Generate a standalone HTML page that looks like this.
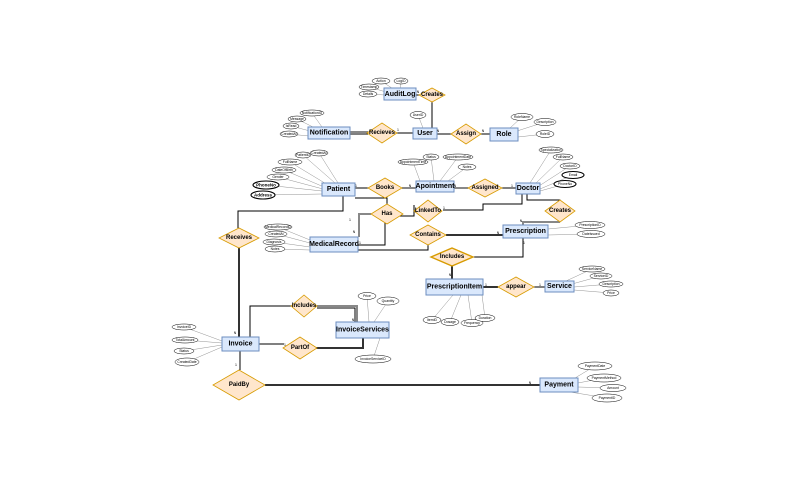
<!DOCTYPE html>
<html><head><meta charset="utf-8"><style>
html,body{margin:0;padding:0;background:#fff;width:800px;height:480px;overflow:hidden}
svg{display:block}
.e{fill:#dae8fc;stroke:#6c8ebf;stroke-width:1}
.d{fill:#ffe6cc;stroke:#d79b00;stroke-width:0.8}
.a{fill:#fff;stroke:#000;stroke-width:0.5}
.at{fill:#fff;stroke:#000;stroke-width:1.1}
.l{stroke:#000;stroke-width:1;fill:none}
.t{stroke:#333;stroke-width:2;fill:none}
.g{stroke:#888;stroke-width:2;fill:none}
.al{stroke:#777;stroke-width:0.4;fill:none}
text{font-family:"Liberation Sans",sans-serif;text-anchor:middle;dominant-baseline:central}
.et{font-size:7px;font-weight:bold}
.dt{font-size:6px;font-weight:bold}
.st{font-size:3.4px}
.bt{font-size:4.5px;font-weight:bold}
.c{font-size:3.5px;text-anchor:start}
</style></head><body>
<svg width="800" height="480" viewBox="0 0 800 480">
<!-- attribute lines -->
<g class="al">
<path d="M381,81L395,90M401,81L400,89M369,87L386,92M368,94L385,95"/>
<path d="M418,115L423,128"/>
<path d="M312,113L322,127M297,119L315,128M291,126L310,131M289,134L309,136"/>
<path d="M522,117L510,128M545,122L517,131M545,134L518,137"/>
<path d="M303,155L335,183M319,153L338,183M290,162L328,185M284,170L324,187M278,177L323,189M266,185L322,191M263,195L322,194"/>
<path d="M431,157L434,181M458,157L440,181M413,162L420,181M467,167L448,181"/>
<path d="M551,150L530,183M563,157L535,184M570,166L539,186M573,175L540,189M565,184L540,191"/>
<path d="M278,227L310,240M276,234L310,243M274,242L310,247M275,249L310,250"/>
<path d="M590,225L548,229M591,234L548,235"/>
<path d="M432,320L453,295M450,322L461,295M472,323L468,295M485,318L482,295"/>
<path d="M592,269L566,281M601,276L572,284M611,284L574,287M611,293L574,290"/>
<path d="M367,296L369,322M388,301L374,322M373,359L380,338"/>
<path d="M184,327L222,341M185,340L222,343M184,351L222,345M187,362L222,347"/>
<path d="M595,366L575,378M604,378L578,383M613,388L578,387M607,398L570,392"/>
</g>
<!-- relationship lines -->
<path class="l" d="M415,95H420M432,102V128"/>
<path class="g" d="M350,132H368"/><path class="l" d="M350,134H368"/>
<path class="l" d="M397,133H413M437,134H452M481,134H490"/>
<path class="l" d="M355,188H368M502,188H516"/>
<path class="g" d="M402,188H416M454,188H468"/>
<path class="l" d="M355,198H387V204"/>
<path class="g" d="M371,214H359V237"/>
<path class="l" d="M343,196V211H238V228"/>
<path class="t" d="M239,248V337"/>
<path class="l" d="M358,245H385V216H414V205M443,210H483V204H522V194"/>
<path class="l" d="M358,250H428V245"/>
<path class="t" d="M446,235H503"/>
<path class="l" d="M527,194V200H560V201"/>
<path class="g" d="M560,222H523V225"/>
<path class="l" d="M523,238V257H473"/>
<path class="t" d="M452,266V279"/>
<path class="t" d="M483,287H498"/><path class="l" d="M534,287H545"/>
<path class="l" d="M250,337V306H292"/>
<path class="g" d="M317,306H357V322"/><path class="l" d="M317,308H355V322"/>
<path class="l" d="M259,344H284"/>
<path class="t" d="M316,348H363V338"/>
<path class="l" d="M240,351V370"/>
<path class="t" d="M265,385H540"/>
<!-- entities -->
<rect class="e" x="384" y="88" width="32" height="12"/><text class="et" x="400" y="94.5">AuditLog</text>
<rect class="e" x="413" y="128" width="24" height="11"/><text class="et" x="425" y="133.5">User</text>
<rect class="e" x="308" y="127" width="42" height="12"/><text class="et" x="329" y="133">Notification</text>
<rect class="e" x="490" y="128" width="28" height="13"/><text class="et" x="504" y="134.5">Role</text>
<rect class="e" x="322" y="183" width="33" height="13"/><text class="et" x="338.5" y="189.5">Patient</text>
<rect class="e" x="416" y="181" width="38" height="11"/><text class="et" x="435" y="186.5">Apointment</text>
<rect class="e" x="516" y="183" width="24" height="11"/><text class="et" x="528" y="188.5">Doctor</text>
<rect class="e" x="310" y="237" width="48" height="15"/><text class="et" x="334" y="244.5">MedicalRecord</text>
<rect class="e" x="503" y="225" width="45" height="13"/><text class="et" x="525.5" y="231.5">Prescription</text>
<rect class="e" x="426" y="279" width="57" height="16"/><text class="et" x="454.5" y="287">PrescriptionItem</text>
<rect class="e" x="545" y="281" width="29" height="11"/><text class="et" x="559.5" y="286.5">Service</text>
<rect class="e" x="336" y="322" width="53" height="16"/><text class="et" x="362.5" y="330">InvoiceServices</text>
<rect class="e" x="222" y="337" width="37" height="14"/><text class="et" x="240.5" y="344">Invoice</text>
<rect class="e" x="540" y="378" width="38" height="14"/><text class="et" x="559" y="385">Payment</text>
<!-- diamonds -->
<g>
<polygon class="d" points="419,95 432,88 445,95 432,102"/><text class="dt" x="432" y="95">Creates</text>
<polygon class="d" points="367,133 382,123 397,133 382,143"/><text class="dt" x="382" y="133">Recieves</text>
<polygon class="d" points="451,134 466,124 481,134 466,144"/><text class="dt" x="466" y="134">Assign</text>
<polygon class="d" points="368,188 385,178 402,188 385,198"/><text class="dt" x="385" y="188">Books</text>
<polygon class="d" points="468,188 485,179 502,188 485,197"/><text class="dt" x="485" y="188">Assigned</text>
<polygon class="d" points="371,214 387,204 403,214 387,224"/><text class="dt" x="387" y="214">Has</text>
<polygon class="d" points="414,211 428,200 442,211 428,222"/><text class="dt" x="428" y="211">LinkedTo</text>
<polygon class="d" points="545,211 560,200 575,211 560,222"/><text class="dt" x="560" y="211">Creates</text>
<polygon class="d" points="410,235 428,225 446,235 428,245"/><text class="dt" x="428" y="235">Contains</text>
<polygon class="d" points="431,257 452,248 473,257 452,266" style="stroke-width:1.4"/><text class="dt" x="452" y="257">Includes</text>
<polygon class="d" points="498,287 516,277 534,287 516,297"/><text class="dt" x="516" y="287">appear</text>
<polygon class="d" points="219,238 239,228 259,238 239,248"/><text class="dt" x="239" y="238">Receives</text>
<polygon class="d" points="291,306 304,295 317,306 304,317"/><text class="dt" x="304" y="306">Includes</text>
<polygon class="d" points="283,348 300,337 317,348 300,359"/><text class="dt" x="300" y="348">PartOf</text>
<polygon class="d" points="213,385 239,370 265,385 239,400"/><text class="dt" x="239" y="385">PaidBy</text>
</g>
<!-- attributes -->
<g>
<ellipse class="a" cx="381" cy="81" rx="9" ry="3"/><text class="st" x="381" y="81">Action</text>
<ellipse class="a" cx="401" cy="81" rx="7" ry="3"/><text class="st" x="401" y="81">LogID</text>
<ellipse class="a" cx="369" cy="87" rx="10" ry="3"/><text class="st" x="369" y="87">Timestamp</text>
<ellipse class="a" cx="368" cy="94" rx="9" ry="3"/><text class="st" x="368" y="94">Details</text>
<ellipse class="a" cx="418" cy="115" rx="8" ry="3.5"/><text class="st" x="418" y="115">UserID</text>
<ellipse class="a" cx="312" cy="113" rx="12" ry="3"/><text class="st" x="312" y="113">NotificationID</text>
<ellipse class="a" cx="297" cy="119" rx="9" ry="3"/><text class="st" x="297" y="119">Message</text>
<ellipse class="a" cx="291" cy="126" rx="8" ry="3"/><text class="st" x="291" y="126">IsRead</text>
<ellipse class="a" cx="289" cy="134" rx="9" ry="3"/><text class="st" x="289" y="134">CreatedAt</text>
<ellipse class="a" cx="522" cy="117" rx="11" ry="3.5"/><text class="st" x="522" y="117">RoleName</text>
<ellipse class="a" cx="545" cy="122" rx="11" ry="3.5"/><text class="st" x="545" y="122">Description</text>
<ellipse class="a" cx="545" cy="134" rx="9" ry="3.5"/><text class="st" x="545" y="134">RoleID</text>
<ellipse class="a" cx="303" cy="155" rx="8" ry="3"/><text class="st" x="303" y="155">PatientID</text>
<ellipse class="a" cx="319" cy="153" rx="9" ry="3"/><text class="st" x="319" y="153">CreatedAt</text>
<ellipse class="a" cx="290" cy="162" rx="12" ry="3"/><text class="st" x="290" y="162">FullName</text>
<ellipse class="a" cx="284" cy="170" rx="12" ry="3"/><text class="st" x="284" y="170">DateOfBirth</text>
<ellipse class="a" cx="278" cy="177" rx="11" ry="3"/><text class="st" x="278" y="177">Gender</text>
<ellipse class="at" cx="266" cy="185" rx="13" ry="4"/><text class="bt" x="266" y="185">PhoneNo</text>
<ellipse class="at" cx="263" cy="195" rx="12" ry="4"/><text class="bt" x="263" y="195">Address</text>
<ellipse class="a" cx="431" cy="157" rx="8" ry="3"/><text class="st" x="431" y="157">Status</text>
<ellipse class="a" cx="458" cy="157" rx="15" ry="3"/><text class="st" x="458" y="157">AppointmentDate</text>
<ellipse class="a" cx="413" cy="162" rx="15" ry="3"/><text class="st" x="413" y="162">AppointmentTime</text>
<ellipse class="a" cx="467" cy="167" rx="9" ry="3"/><text class="st" x="467" y="167">Notes</text>
<ellipse class="a" cx="551" cy="150" rx="12" ry="3"/><text class="st" x="551" y="150">Specialization</text>
<ellipse class="a" cx="563" cy="157" rx="10" ry="3"/><text class="st" x="563" y="157">FullName</text>
<ellipse class="a" cx="570" cy="166" rx="10" ry="3"/><text class="st" x="570" y="166">DoctorID</text>
<ellipse class="at" cx="573" cy="175" rx="11" ry="3.5"/><text class="st" x="573" y="175">Email</text>
<ellipse class="at" cx="565" cy="184" rx="11" ry="3.5"/><text class="st" x="565" y="184">PhoneNo</text>
<ellipse class="a" cx="278" cy="227" rx="14" ry="3"/><text class="st" x="278" y="227">MedicalRecordID</text>
<ellipse class="a" cx="276" cy="234" rx="11" ry="3"/><text class="st" x="276" y="234">CreatedAt</text>
<ellipse class="a" cx="274" cy="242" rx="11" ry="3"/><text class="st" x="274" y="242">Diagnosis</text>
<ellipse class="a" cx="275" cy="249" rx="10" ry="3"/><text class="st" x="275" y="249">Notes</text>
<ellipse class="a" cx="590" cy="225" rx="15" ry="3.5"/><text class="st" x="590" y="225">PrescriptionID</text>
<ellipse class="a" cx="591" cy="234" rx="14" ry="3.5"/><text class="st" x="591" y="234">DateIssued</text>
<ellipse class="a" cx="432" cy="320" rx="9" ry="3.5"/><text class="st" x="432" y="320">ItemID</text>
<ellipse class="a" cx="450" cy="322" rx="9" ry="3.5"/><text class="st" x="450" y="322">Dosage</text>
<ellipse class="a" cx="472" cy="323" rx="11" ry="3.5"/><text class="st" x="472" y="323">Frequency</text>
<ellipse class="a" cx="485" cy="318" rx="10" ry="3.5"/><text class="st" x="485" y="318">Duration</text>
<ellipse class="a" cx="592" cy="269" rx="13" ry="3"/><text class="st" x="592" y="269">ServiceName</text>
<ellipse class="a" cx="601" cy="276" rx="11" ry="3"/><text class="st" x="601" y="276">ServiceID</text>
<ellipse class="a" cx="611" cy="284" rx="12" ry="3"/><text class="st" x="611" y="284">Description</text>
<ellipse class="a" cx="611" cy="293" rx="8" ry="3"/><text class="st" x="611" y="293">Price</text>
<ellipse class="a" cx="367" cy="296" rx="9" ry="3.5"/><text class="st" x="367" y="296">Price</text>
<ellipse class="a" cx="388" cy="301" rx="11" ry="4"/><text class="st" x="388" y="301">Quantity</text>
<ellipse class="a" cx="373" cy="359" rx="18" ry="4"/><text class="st" x="373" y="359">InvoiceServiceID</text>
<ellipse class="a" cx="184" cy="327" rx="12" ry="3"/><text class="st" x="184" y="327">InvoiceID</text>
<ellipse class="a" cx="185" cy="340" rx="13" ry="3"/><text class="st" x="185" y="340">TotalAmount</text>
<ellipse class="a" cx="184" cy="351" rx="10" ry="3"/><text class="st" x="184" y="351">Status</text>
<ellipse class="a" cx="187" cy="362" rx="12" ry="4"/><text class="st" x="187" y="362">CreatedDate</text>
<ellipse class="a" cx="595" cy="366" rx="17" ry="4"/><text class="st" x="595" y="366">PaymentDate</text>
<ellipse class="a" cx="604" cy="378" rx="17" ry="4"/><text class="st" x="604" y="378">PaymentMethod</text>
<ellipse class="a" cx="613" cy="388" rx="13" ry="3.5"/><text class="st" x="613" y="388">Amount</text>
<ellipse class="a" cx="607" cy="398" rx="15" ry="4"/><text class="st" x="607" y="398">PaymentID</text>
</g>
<!-- cardinalities -->
<g class="c">
<text x="418" y="92">N</text><text x="398" y="130">1</text><text x="438" y="131">N</text><text x="483" y="131">N</text>
<text x="356" y="186">1</text><text x="410" y="186">N</text><text x="455" y="186">N</text><text x="512" y="186">1</text>
<text x="350" y="220">1</text><text x="354" y="232">N</text><text x="444" y="208">1</text><text x="360" y="243">1</text>
<text x="498" y="233">N</text><text x="524" y="243">1</text><text x="521" y="221">N</text><text x="450" y="275">N</text>
<text x="486" y="285">1</text><text x="540" y="285">1</text><text x="235" y="333">N</text><text x="236" y="365">1</text>
<text x="285" y="345">1</text><text x="353" y="320">N</text><text x="530" y="383">N</text>
</g>
</svg>
</body></html>
